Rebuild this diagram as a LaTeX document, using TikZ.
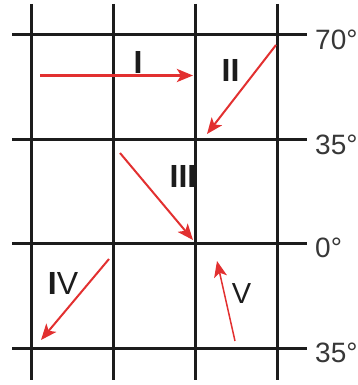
\documentclass[tikz,border=0pt]{standalone}
\usepackage{fontspec}
\setmainfont{Liberation Sans}
\usepackage{tikz}
\usetikzlibrary{arrows.meta,calc}
\definecolor{windred}{RGB}{226,48,48}
\definecolor{gridblk}{RGB}{28,28,28}
\definecolor{lblgray}{RGB}{55,55,55}
\begin{document}
\begin{tikzpicture}[x=1pt,y=-1pt,>={Stealth[length=16pt,width=13pt,inset=4pt]},
  gridln/.style={draw=gridblk,line width=3pt},
  wind/.style={draw=windred,->,line width=2pt},
  lat/.style={anchor=base west,text=lblgray,font=\fontsize{28}{28}\selectfont,inner sep=0pt},
  zone/.style={anchor=base,text=gridblk,font=\fontsize{32}{32}\selectfont\bfseries,inner sep=0pt}]
  \useasboundingbox (0,0) rectangle (358,385);
  % grid
  \foreach \x in {31,113,195,277} \draw[gridln] (\x,4)--(\x,380);
  \foreach \y in {35,139,243,348} \draw[gridln] (12,\y)--(307,\y);
  % latitudes
  \node[lat](l70) at (315,49.5){70°};
  \node[lat](l35n) at (315,154){35°};
  \node[lat](l0) at (315,257.5){0°};
  \node[lat](l35s) at (315,362){35°};
  % zone labels
  \node[zone](zI) at (138,74){I};
  \node[zone](zII) at (230.5,82){II};
  \node[zone](zIII) at (183,187){III};
  \node[zone](zIV) at (63,294){I\mdseries V};
  \node[zone,font=\fontsize{29}{29}\selectfont](zV) at (241.5,303){V};
  % arrows
  \coordinate(aI) at (40,75.5); \coordinate(bI) at (193,75.5);
  \coordinate(aII) at (276,45); \coordinate(bII) at (207,134);
  \coordinate(aIII) at (120,153); \coordinate(bIII) at (193,240);
  \coordinate(aIV) at (109,259); \coordinate(bIV) at (41,340);
  \coordinate(aV) at (235,341); \coordinate(bV) at (217,261);
  \draw[wind,line width=3pt](aI)--(bI);
  \draw[wind](aII)--(bII);
  \draw[wind](aIII)--(bIII);
  \draw[wind](aIV)--(bIV);
  \draw[wind,line width=1.5pt](aV)--(bV);
\end{tikzpicture}
\end{document}
